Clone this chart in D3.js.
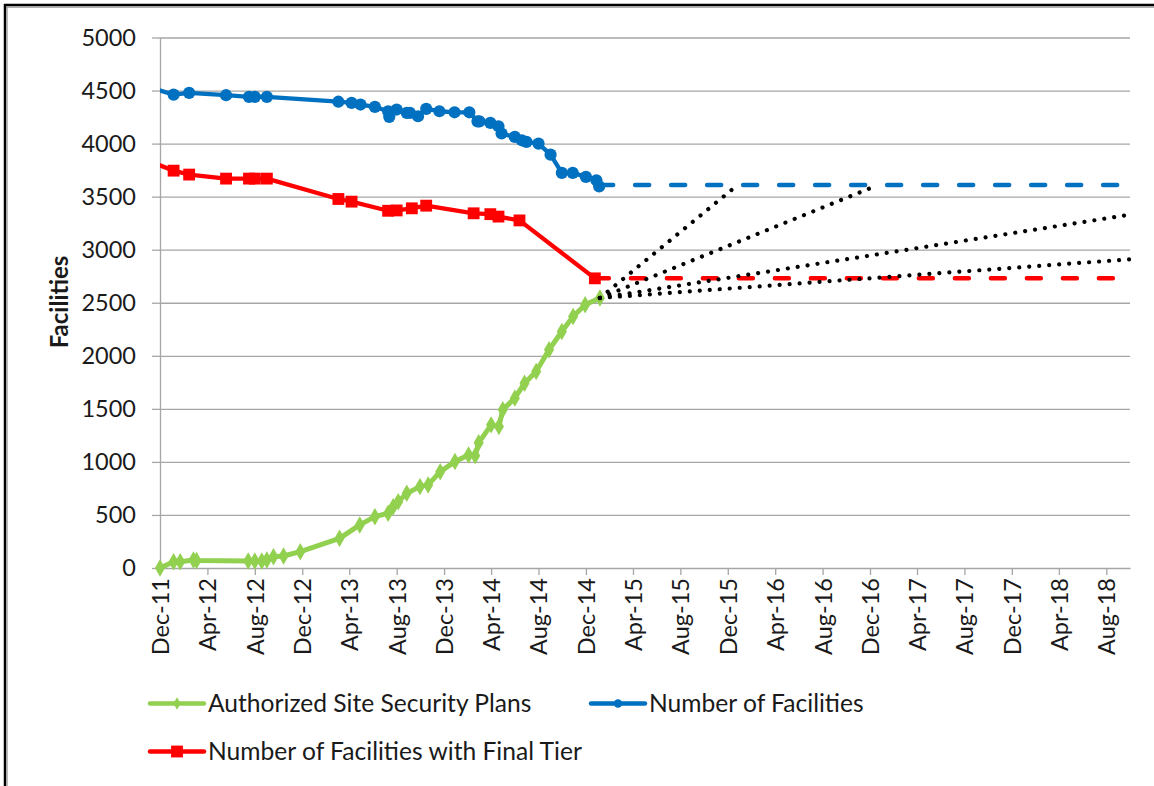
<!DOCTYPE html>
<html>
<head>
<meta charset="utf-8">
<script src="https://cdn.jsdelivr.net/npm/d3@7"></script>
<style>
  body { margin: 0; background: #fff; }
  svg text { font-family: Lato, "Open Sans", sans-serif; fill: #1a1a1a; }
</style>
</head>
<body>
<svg id="chart" width="1154" height="786"></svg>
<script>
const width = 1154;
const height = 786;

// Authorized Site Security Plans (green)
const planDates = [
  "2011-12-01", "2012-01-05", "2012-01-22", "2012-02-25", "2012-03-04", "2012-07-15",
  "2012-08-01", "2012-08-19", "2012-09-01", "2012-09-18", "2012-10-14", "2012-11-26",
  "2013-03-07", "2013-04-28", "2013-06-06", "2013-07-10", "2013-07-23", "2013-08-05",
  "2013-08-27", "2013-09-30", "2013-10-21", "2013-11-21", "2013-12-29", "2014-02-02",
  "2014-02-19", "2014-02-28", "2014-04-01", "2014-04-21", "2014-05-01", "2014-06-01",
  "2014-06-26", "2014-07-26", "2014-08-28", "2014-09-30", "2014-10-29", "2014-11-29",
  "2015-01-06"
];
const planValues = [
  0, 59, 59, 75, 70, 66,
  66, 66, 75, 107, 113, 154,
  280, 406, 484, 516, 578, 625,
  705, 767, 783, 908, 1003, 1066,
  1057, 1180, 1349, 1333, 1491, 1601,
  1742, 1852, 2057, 2229, 2371, 2481,
  2545
];

// Number of Facilities (blue); the first point lies left of the axis and is clipped
const facilityDates = [
  "2011-11-01", "2012-01-05", "2012-02-14", "2012-05-19", "2012-07-17", "2012-08-01",
  "2012-09-01", "2013-03-04", "2013-04-07", "2013-04-30", "2013-06-06", "2013-07-10",
  "2013-07-13", "2013-08-01", "2013-08-27", "2013-09-04", "2013-09-25", "2013-10-16",
  "2013-11-19", "2013-12-28", "2014-02-04", "2014-02-25", "2014-03-02", "2014-03-30",
  "2014-04-20", "2014-04-28", "2014-06-01", "2014-06-19", "2014-07-01", "2014-08-01",
  "2014-09-01", "2014-09-30", "2014-10-28", "2014-12-01", "2014-12-28", "2015-01-04"
];
const facilityValues = [
  4533, 4462, 4478, 4456, 4440, 4440,
  4440, 4395, 4384, 4368, 4346, 4305,
  4252, 4321, 4290, 4290, 4258, 4327,
  4305, 4295, 4295, 4210, 4210, 4195,
  4163, 4095, 4063, 4031, 4016, 4000,
  3896, 3724, 3724, 3686, 3654, 3597
];

// Number of Facilities with Final Tier (red); first point clipped too
const tierDates = [
  "2011-11-01", "2012-01-05", "2012-02-14", "2012-05-19", "2012-07-17", "2012-08-01",
  "2012-09-01", "2013-03-04", "2013-04-07", "2013-07-10", "2013-08-01", "2013-09-09",
  "2013-10-16", "2014-02-15", "2014-03-30", "2014-04-20", "2014-06-13", "2014-12-24"
];
const tierValues = [
  3838, 3745, 3708, 3670, 3670, 3670,
  3670, 3478, 3453, 3367, 3370, 3390,
  3415, 3343, 3335, 3312, 3276, 2730
];

// dashed flat projections
const facilityProjDates = ["2015-01-04", "2018-09-01"];
const facilityProjValues = [3610, 3610];
const tierProjDates = ["2014-12-24", "2018-09-01"];
const tierProjValues = [2730, 2730];

// dotted plan projections, all starting from the last plan value
const planProjStart = ["2015-01-06", 2545];
const planProjEndDates = ["2015-12-23", "2016-12-15", "2018-10-01", "2018-10-01"];
const planProjEndValues = [3600, 3600, 3330, 2910];

const yTicks = [0, 500, 1000, 1500, 2000, 2500, 3000, 3500, 4000, 4500, 5000];

const parseDate = d3.utcParse("%Y-%m-%d");
const toPoints = (dates, values) => d3.zip(dates, values).map(([d, v]) => ({ date: parseDate(d), value: v }));

const plans = toPoints(planDates, planValues);
const facilities = toPoints(facilityDates, facilityValues);
const tiers = toPoints(tierDates, tierValues);

const startDate = parseDate("2011-12-01");
const endDate = parseDate("2018-10-01");

const x = d3.scaleUtc().domain([startDate, endDate]).range([160, 1130]);
const y = d3.scaleLinear().domain([0, 5000]).range([568, 37.5]);

const svg = d3.select("#chart");

// outer frame (top and left edges only)
svg.append("line").attr("x1", 4).attr("x2", width).attr("y1", 5).attr("y2", 5)
  .attr("stroke", "#000").attr("stroke-width", 2.5);
svg.append("line").attr("x1", 6).attr("x2", width).attr("y1", 7).attr("y2", 7)
  .attr("stroke", "#9a9a9a").attr("stroke-width", 1.3);
svg.append("line").attr("x1", 5).attr("x2", 5).attr("y1", 4).attr("y2", height)
  .attr("stroke", "#000").attr("stroke-width", 2.5);
svg.append("line").attr("x1", 7).attr("x2", 7).attr("y1", 6).attr("y2", height)
  .attr("stroke", "#9a9a9a").attr("stroke-width", 1.3);

svg.append("clipPath").attr("id", "clip")
  .append("rect").attr("x", 160).attr("y", 0).attr("width", 1000).attr("height", height);

// gridlines
svg.append("g")
  .attr("transform", "translate(160,0)")
  .call(d3.axisLeft(y).tickValues(yTicks.slice(1)).tickSize(-970).tickFormat(""))
  .call(g => g.select(".domain").remove())
  .call(g => g.selectAll("line").attr("stroke", "#a6a6a6").attr("stroke-width", 1.3));

// y axis
svg.append("g")
  .attr("transform", "translate(160,0)")
  .call(d3.axisLeft(y).tickValues(yTicks).tickFormat(d3.format("d")).tickSize(8).tickPadding(16).tickSizeOuter(0))
  .call(g => g.select(".domain").attr("stroke", "#a6a6a6").attr("stroke-width", 1.3))
  .call(g => g.selectAll("line").attr("stroke", "#a6a6a6").attr("stroke-width", 1.3))
  .call(g => g.selectAll("text").attr("font-size", 23.5).style("font-family", null));

// x axis
const xTicks = d3.utcMonth.range(startDate, endDate, 4);
svg.append("g")
  .attr("transform", "translate(0,568)")
  .call(d3.axisBottom(x).tickValues(xTicks).tickFormat(d3.utcFormat("%b-%y")).tickSize(7).tickSizeOuter(0))
  .call(g => g.select(".domain").attr("stroke", "#a6a6a6").attr("stroke-width", 1.3))
  .call(g => g.selectAll("line").attr("stroke", "#a6a6a6").attr("stroke-width", 1.3))
  .call(g => g.selectAll("text")
    .attr("font-size", 23.5)
    .attr("transform", "rotate(-90)")
    .attr("x", -10).attr("y", 0).attr("dy", "0.36em")
    .style("text-anchor", "end"));

// y title
svg.append("text")
  .attr("transform", "translate(60,302) rotate(-90)")
  .attr("text-anchor", "middle")
  .attr("dy", "0.35em")
  .attr("font-size", 24)
  .attr("font-weight", "bold")
  .text("Facilities");

const line = d3.line().x(d => x(d.date)).y(d => y(d.value));

const green = "#92d050";
const blue = "#0070c0";
const red = "#ff0000";

const diamond = d3.symbol().type(d3.symbolDiamond).size(88);
const square = d3.symbol().type(d3.symbolSquare).size(140);

// green series
svg.append("path").datum(plans)
  .attr("fill", "none").attr("stroke", green).attr("stroke-width", 5)
  .attr("stroke-linejoin", "round").attr("d", line);
svg.append("g").selectAll("path").data(plans).join("path")
  .attr("transform", d => `translate(${x(d.date)},${y(d.value)})`)
  .attr("d", diamond).attr("fill", green);

// blue series
const blueG = svg.append("g").attr("clip-path", "url(#clip)");
blueG.append("path").datum(facilities)
  .attr("fill", "none").attr("stroke", blue).attr("stroke-width", 4.3)
  .attr("stroke-linejoin", "round").attr("d", line);
blueG.selectAll("circle").data(facilities).join("circle")
  .attr("cx", d => x(d.date)).attr("cy", d => y(d.value)).attr("r", 6.1)
  .attr("fill", blue);

// red series
const redG = svg.append("g").attr("clip-path", "url(#clip)");
redG.append("path").datum(tiers)
  .attr("fill", "none").attr("stroke", red).attr("stroke-width", 4.3)
  .attr("stroke-linejoin", "round").attr("d", line);
redG.selectAll("path.m").data(tiers).join("path").attr("class", "m")
  .attr("transform", d => `translate(${x(d.date)},${y(d.value)})`)
  .attr("d", square).attr("fill", red);

// dashed projections
[[facilityProjDates, facilityProjValues, blue], [tierProjDates, tierProjValues, red]].forEach(([ds, vs, c]) => {
  svg.append("path").datum(toPoints(ds, vs))
    .attr("fill", "none").attr("stroke", c).attr("stroke-width", 4.5)
    .attr("stroke-dasharray", "14 22").attr("stroke-linecap", "round")
    .attr("d", line);
});

// dotted projections
planProjEndDates.forEach((d, i) => {
  const pts = toPoints([planProjStart[0], d], [planProjStart[1], planProjEndValues[i]]);
  svg.append("path").datum(pts)
    .attr("fill", "none").attr("stroke", "#000").attr("stroke-width", 4.2)
    .attr("stroke-dasharray", "0.01 10").attr("stroke-linecap", "round")
    .attr("d", line);
});

// legend
const legendItems = [
  { name: "Authorized Site Security Plans", color: green, mark: "diamond", x: 150, y: 703.5 },
  { name: "Number of Facilities", color: blue, mark: "circle", x: 591, y: 703.5 },
  { name: "Number of Facilities with Final Tier", color: red, mark: "square", x: 150, y: 751.5 }
];
const legend = svg.append("g").selectAll("g").data(legendItems).join("g")
  .attr("transform", d => `translate(${d.x},${d.y})`);
legend.append("line").attr("x1", 0).attr("x2", 54)
  .attr("stroke", d => d.color).attr("stroke-width", 4.5).attr("stroke-linecap", "round");
legend.append("path")
  .attr("transform", "translate(27,0)")
  .attr("d", d => d.mark === "diamond" ? d3.symbol().type(d3.symbolDiamond).size(45)()
    : d.mark === "circle" ? d3.symbol().type(d3.symbolCircle).size(55)()
    : square())
  .attr("fill", d => d.color);
legend.append("text")
  .attr("x", 58).attr("dy", "0.35em")
  .attr("font-size", 24.6)
  .text(d => d.name);
</script>
</body>
</html>
